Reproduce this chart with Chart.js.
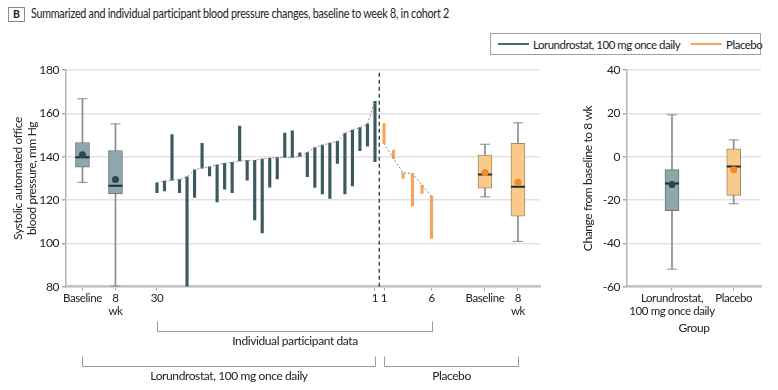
<!DOCTYPE html>
<html>
<head>
<meta charset="utf-8">
<script src="https://cdn.jsdelivr.net/npm/chart.js@4.4.0/dist/chart.umd.min.js"></script>
<style>
  body { margin: 0; background: #fff; }
  #page { position: relative; width: 778px; height: 390px; overflow: hidden; color: #222;
          font-family: Lato, 'Liberation Sans', sans-serif; letter-spacing: -0.3px; }
  .tag { position: absolute; left: 8px; top: 7px; width: 15px; height: 13px; border: 1px solid #8a8a8a;
         font-weight: bold; font-size: 10.5px; text-align: center; line-height: 13px; letter-spacing: 0; }
  .title { position: absolute; left: 31px; top: 6px; font-size: 12.5px; line-height: 15px; white-space: nowrap;
           transform-origin: 0 0; transform: scaleX(0.86); }
  .legend { position: absolute; left: 490px; top: 33px; width: 271px; height: 22px; border: 1px solid #a0a0a0;
            box-sizing: border-box; display: flex; align-items: center; padding-left: 7px; font-size: 11.5px;
            letter-spacing: -0.5px; white-space: nowrap; }
  .legend .sw { display: inline-block; flex-shrink: 0; width: 31px; height: 2px; margin-right: 4px; }
  canvas { position: absolute; }
</style>
</head>
<body>
<div id="page">
  <div class="tag">B</div>
  <div class="title">Summarized and individual participant blood pressure changes, baseline to week 8, in cohort 2</div>
  <div class="legend">
    <span class="sw" style="background:#4b6870"></span><span>Lorundrostat, 100 mg once daily</span>
    <span class="sw" style="background:#f5a55c; margin-left:11px"></span><span>Placebo</span>
  </div>
  <canvas id="bpChart" width="550" height="330" style="left:0; top:60px"></canvas>
  <canvas id="changeChart" width="218" height="276" style="left:560px; top:60px"></canvas>
</div>
<script>
// participants, lorundrostat sorted 30 -> 1, placebo 1 -> 6 (mm Hg)
const lorBaseline = [128.0, 128.8, 129.2, 129.5, 130.8, 134.0, 134.8, 135.4, 136.3, 137.0,
                     137.4, 138.1, 138.3, 138.4, 139.0, 139.4, 139.7, 139.7, 139.7, 140.2,
                     142.0, 144.3, 145.4, 146.3, 147.1, 150.8, 152.3, 153.5, 155.1, 165.6];
const lorWeek8 = [123.4, 124.2, 150.3, 123.4, 80.3, 121.2, 146.2, 131.2, 119.2, 125.1,
                  123.4, 154.2, 129.2, 110.9, 104.8, 126.0, 129.8, 150.9, 152.0, 141.8,
                  130.8, 125.8, 122.8, 120.8, 136.9, 122.8, 126.6, 142.8, 144.9, 137.8];
const placeboBaseline = [146.2, 139.2, 132.6, 132.3, 126.9, 121.8];
const placeboWeek8 = [155.4, 143.1, 130.0, 117.2, 123.1, 102.3];

// box summaries: [min, q1, median, q3, max]
const lorBaselineBox = [128.2, 135.2, 139.8, 146.6, 166.8];
const lorWeek8Box = [80.3, 122.9, 126.6, 142.9, 155.2];
const placeboBaselineBox = [121.5, 125.5, 131.8, 140.8, 145.8];
const placeboWeek8Box = [100.9, 112.6, 126.2, 146.2, 155.7];
const bpMeans = [141.0, 129.5, 132.8, 128.2];

const changeLorBox = [-51.9, -24.9, -12.3, -5.9, 19.4];
const changePlaceboBox = [-21.7, -17.8, -4.5, 3.7, 7.8];
const changeMeans = [-12.8, -6.0];

const xTickLabels = ['Baseline', ['8', 'wk'], '30', '1', '1', '6', 'Baseline', ['8', 'wk']];
const groupLabels = [['Lorundrostat,', '100 mg once daily'], 'Placebo'];

// layout of the x axis (participant slots)
const SPLIT_X = 29.57;
const placeboX = i => 30.2 + i * 1.264;
const BOX_X = [-9.91, -5.52, 43.63, 48.02];

const FONT = "Lato, 'Liberation Sans', sans-serif";
Chart.defaults.font.family = FONT;
Chart.defaults.font.size = 11.5;
Chart.defaults.color = '#222';

const LOR_FILL = '#8ea7ad', LOR_EDGE = '#66797e', LOR_BAR = '#3d5a61', LOR_DOT = '#2b474d';
const PLA_FILL = '#f9ca8c', PLA_EDGE = '#a08a68', PLA_BAR = '#f5a55c', PLA_DOT = '#f28a2e';
const WHISK = '#8c8c8c';

function boxSets(boxes, means, xs, fills, edges, dots) {
  return [
    { type: 'bar', order: 7, grouped: false, barThickness: 1, backgroundColor: WHISK,
      data: boxes.map((b, i) => ({ x: xs[i], y: [b[0], b[4]] })) },
    { type: 'scatter', order: 6, pointStyle: 'line', pointRadius: 5, pointBorderColor: WHISK, pointBorderWidth: 1,
      data: boxes.flatMap((b, i) => [{ x: xs[i], y: b[0] }, { x: xs[i], y: b[4] }]) },
    { type: 'bar', order: 5, grouped: false, barThickness: 14, backgroundColor: fills, borderColor: edges,
      borderWidth: 1, borderSkipped: false,
      data: boxes.map((b, i) => ({ x: xs[i], y: [b[1], b[3]] })) },
    { type: 'scatter', order: 4, pointStyle: 'line', pointRadius: 7, pointBorderColor: '#1f2a2c', pointBorderWidth: 2,
      data: boxes.map((b, i) => ({ x: xs[i], y: b[2] })) },
    { type: 'scatter', order: 3, pointRadius: 3.5, pointBackgroundColor: dots, pointBorderWidth: 0,
      data: means.map((m, i) => ({ x: xs[i], y: m })) }
  ];
}

const gridStyle = { color: '#e2e2e2', lineWidth: 1.5, tickLength: 4, tickColor: '#aaa' };

// slightly tighter text, closer to the condensed face of the original
const tightText = {
  id: 'tightText',
  beforeDraw(chart) { chart.ctx.letterSpacing = '-0.4px'; }
};

// brackets under the left panel
const bracketPlugin = {
  id: 'brackets',
  afterDraw(chart) {
    const ctx = chart.ctx, xs = chart.scales.x;
    const draw = (a, b, y, label) => {
      const x1 = Math.round(xs.getPixelForValue(a)) + 0.5, x2 = Math.round(xs.getPixelForValue(b)) + 0.5;
      ctx.save();
      ctx.strokeStyle = '#9a9a9a';
      ctx.lineWidth = 1;
      ctx.beginPath();
      ctx.moveTo(x1, y - 10); ctx.lineTo(x1, y); ctx.lineTo(x2, y); ctx.lineTo(x2, y - 10);
      ctx.stroke();
      ctx.fillStyle = '#222';
      ctx.font = '12px ' + FONT;
      ctx.textAlign = 'center';
      ctx.textBaseline = 'middle';
      ctx.fillText(label, (x1 + x2) / 2, y + 10);
      ctx.restore();
    };
    draw(0, placeboX(5), 271.5, 'Individual participant data');
    draw(BOX_X[0], 29, 306.5, 'Lorundrostat, 100 mg once daily');
    draw(placeboX(0), BOX_X[3], 306.5, 'Placebo');
  }
};

new Chart(document.getElementById('bpChart'), {
  type: 'bar',
  data: {
    datasets: [
      { type: 'line', order: 0, data: [{ x: SPLIT_X, y: 80 }, { x: SPLIT_X, y: 180 }],
        borderColor: '#333', borderWidth: 1.3, borderDash: [4, 3], pointRadius: 0 },
      { type: 'line', order: 1, data: lorBaseline.map((v, i) => ({ x: i, y: v })),
        borderColor: '#8a8a8a', borderWidth: 1, borderDash: [2, 2], pointRadius: 0 },
      { type: 'line', order: 1, data: placeboBaseline.map((v, i) => ({ x: placeboX(i), y: v })),
        borderColor: '#8a8a8a', borderWidth: 1, borderDash: [2, 2], pointRadius: 0 },
      { type: 'bar', order: 2, grouped: false, barThickness: 2.5, backgroundColor: LOR_BAR,
        data: lorBaseline.map((v, i) => ({ x: i, y: [v, lorWeek8[i]] })) },
      { type: 'bar', order: 2, grouped: false, barThickness: 2.5, backgroundColor: PLA_BAR,
        data: placeboBaseline.map((v, i) => ({ x: placeboX(i), y: [v, placeboWeek8[i]] })) },
      ...boxSets([lorBaselineBox, lorWeek8Box, placeboBaselineBox, placeboWeek8Box], bpMeans, BOX_X,
                 [LOR_FILL, LOR_FILL, PLA_FILL, PLA_FILL], [LOR_EDGE, LOR_EDGE, PLA_EDGE, PLA_EDGE],
                 [LOR_DOT, LOR_DOT, PLA_DOT, PLA_DOT])
    ]
  },
  options: {
    responsive: false,
    animation: false,
    events: [],
    layout: { padding: { top: 9.5, right: 10, left: 0, bottom: 0 } },
    plugins: { legend: { display: false }, tooltip: { enabled: false } },
    scales: {
      x: {
        type: 'linear', min: -12.1, max: 50.95, offset: false,
        afterFit: s => { s.height = 103.3; },
        afterBuildTicks: s => { s.ticks = [BOX_X[0], BOX_X[1], 0, 29, placeboX(0), placeboX(5), BOX_X[2], BOX_X[3]].map(v => ({ value: v })); },
        ticks: { autoSkip: false, maxRotation: 0, minRotation: 0, padding: 1, font: { size: 11.5, lineHeight: 1.15 },
                 callback: (v, i) => xTickLabels[i] },
        grid: { display: true, drawOnChartArea: false, offset: false, tickLength: 4, tickColor: '#aaa' },
        border: { color: '#c4c4c4', width: 2.5 }
      },
      y: {
        min: 80, max: 180,
        afterFit: s => { s.width = 66; },
        ticks: { stepSize: 20, padding: 3, font: { size: 12 } },
        grid: gridStyle,
        border: { color: '#b5b5b5', width: 1.5 },
        title: { display: true, text: ['Systolic automated office', 'blood pressure, mm Hg'],
                 font: { size: 12, lineHeight: 1.2 }, padding: { top: 10.8, bottom: 0 } }
      }
    }
  },
  plugins: [tightText, bracketPlugin]
});

new Chart(document.getElementById('changeChart'), {
  type: 'bar',
  data: {
    datasets: boxSets([changeLorBox, changePlaceboBox], changeMeans, [1, 2],
                      [LOR_FILL, PLA_FILL], [LOR_EDGE, PLA_EDGE], [LOR_DOT, PLA_DOT])
  },
  options: {
    responsive: false,
    animation: false,
    events: [],
    layout: { padding: { top: 9.5, right: 17, left: 0, bottom: 0 } },
    plugins: { legend: { display: false }, tooltip: { enabled: false } },
    scales: {
      x: {
        type: 'linear', min: 0.271, max: 2.442, offset: false,
        afterFit: s => { s.height = 49.3; },
        afterBuildTicks: s => { s.ticks = [1, 2].map(v => ({ value: v })); },
        ticks: { autoSkip: false, maxRotation: 0, minRotation: 0, padding: 1, font: { size: 11.5, lineHeight: 1.15 },
                 callback: (v, i) => groupLabels[i] },
        grid: { display: true, drawOnChartArea: false, offset: false, tickLength: 4, tickColor: '#aaa' },
        border: { color: '#c4c4c4', width: 2.5 },
        title: { display: true, text: 'Group', font: { size: 12 }, padding: { top: 0, bottom: 1 } }
      },
      y: {
        min: -60, max: 40,
        afterFit: s => { s.width = 67; },
        ticks: { stepSize: 20, padding: 3, font: { size: 12 } },
        grid: gridStyle,
        border: { color: '#b5b5b5', width: 1.5 },
        title: { display: true, text: 'Change from baseline to 8 wk', font: { size: 12 }, padding: { top: 20.8, bottom: 0 } }
      }
    }
  },
  plugins: [tightText]
});
</script>
</body>
</html>
